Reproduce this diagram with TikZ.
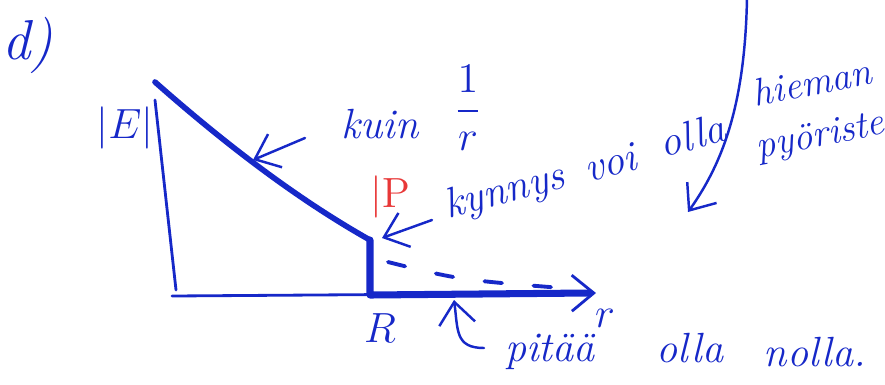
\documentclass[tikz,border=0pt]{standalone}
\usepackage{tikz}
\usetikzlibrary{arrows.meta,positioning,calc}
\definecolor{penblue}{RGB}{22,40,200}
\definecolor{penred}{RGB}{232,56,56}

\begin{document}
\begin{tikzpicture}[
				x=0.01cm, y=-0.01cm,
				ink/.style={
					draw=penblue,
					line width=0.8pt,
					line cap=round,
					line join=round
				},
				heavy/.style={ink, line width=1.6pt},
				pointer/.style={ink, line width=0.7pt, -{Straight Barb[length=2.2mm,width=3.6mm]}},
				note/.style={
					text=penblue,
					inner sep=1pt,
					font=\fontsize{12}{14}\selectfont\itshape
				}
				]
				\useasboundingbox (0,0) rectangle (885,384);
				
				% labels
				\node[note, font=\fontsize{16}{18}\selectfont\itshape] (title) at (28,45) {d)};
				\node[note, font=\fontsize{13}{15}\selectfont] (elabel) at (125,128) {$|E|$};
				\node[note] (kuin) at (380,124) {kuin};
				\node[note, font=\fontsize{13}{15}\selectfont] (onebyr) at (468,108) {$\displaystyle\frac{1}{r}$};
				\node[note, text=penred, font=\fontsize{13}{15}\selectfont] (plabel) at (390,197) {$|\mathrm{P}$};
				\node[note, rotate=15] (kynnys) at (505,193) {kynnys};
				\node[note, rotate=15] (voi) at (610,163) {voi};
				\node[note, rotate=15] (olla) at (692,135) {olla};
				\node[note, rotate=11, inner sep=0pt, font=\fontsize{11}{13}\selectfont\itshape] (hieman) at (812,82) {hieman};
				\node[note, rotate=11, inner sep=0pt, anchor=west, font=\fontsize{11}{13}\selectfont\itshape] (pyor) at (756,150) {pyöristetty};
				\node[note] (rlabel) at (380,328) {$R$};
				\node[note] (axlabel) at (605,318) {$r$};
				\node[note] (pitaa) at (550,352) {pitää};
				\node[note] (olla2) at (690,348) {olla};
				\node[note] (nolla) at (815,352) {nolla.};
				
				% graph points
				\coordinate (ytop) at (155,100);
				\coordinate (origin) at (172,296);
				\coordinate (xend) at (596,293);
				\coordinate (start) at (155,82);
				\coordinate (knee) at (370,240);
				\coordinate (foot) at (370,295);
				
				% axes
				\draw[ink] (ytop) -- (176,290);
				\draw[ink, -{Straight Barb[length=2.2mm,width=3.6mm]}] (origin) -- (xend);
				
				% field
				\draw[heavy] (start) .. controls (215,135) and (290,195) .. (knee);
				\draw[heavy, line width=2pt] (knee) -- (foot) -- (588,293);
				\draw[ink, line width=1.1pt, dash pattern=on 5pt off 9pt] (388,262) .. controls (460,280) .. (575,289);
				
				% pointers
				\coordinate (kuintail) at (305,138);
				\coordinate (kuintip) at (253,160);
				\coordinate (kyntail) at (432,220);
				\coordinate (kyntip) at (382,238);
				\coordinate (longtail) at (747,-2);
				\coordinate (longtip) at (688,212);
				\coordinate (hooktail) at (484,348);
				\coordinate (hooktip) at (454,300);
				\draw[pointer] (kuintail) -- (kuintip);
				\draw[pointer] (kyntail) -- (kyntip);
				\draw[pointer] (longtail) .. controls (745,100) and (725,160) .. (longtip);
				\draw[pointer] (hooktail) .. controls (455,348) and (458,330) .. (hooktip);
			\end{tikzpicture}
\end{document}
